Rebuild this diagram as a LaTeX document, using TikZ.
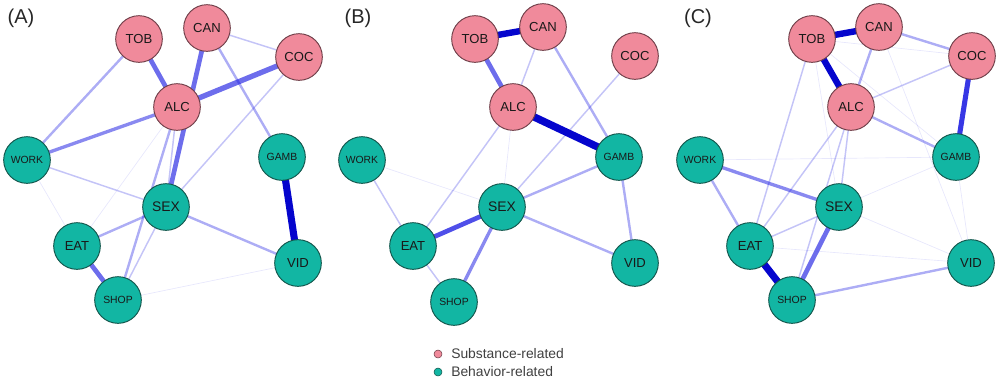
\documentclass[tikz,border=0pt]{standalone}
\usepackage{fontspec}
\setmainfont{Liberation Sans}
\usetikzlibrary{backgrounds}
\definecolor{pinkfill}{RGB}{240,138,155}
\definecolor{tealfill}{RGB}{18,182,163}
\definecolor{pinkline}{RGB}{110,62,72}
\definecolor{tealline}{RGB}{18,85,75}
\definecolor{edgeblue}{RGB}{20,20,225}
\definecolor{darkblue}{RGB}{5,5,205}
\tikzset{
  subst/.style={circle,draw=pinkline,line width=0.7pt,fill=pinkfill,minimum size=35pt,inner sep=0pt,text=black!90,font=\fontsize{9.8}{10}\selectfont},
  behav/.style={circle,draw=tealline,line width=0.7pt,fill=tealfill,minimum size=35pt,inner sep=0pt,text=black!90,font=\fontsize{9.8}{10}\selectfont},
  small/.style={font=\fontsize{7.8}{8}\selectfont},
  big/.style={font=\fontsize{10.4}{11}\selectfont},
  ef/.style={draw=edgeblue,line width=0.5pt,draw opacity=0.1},
  et/.style={draw=edgeblue,line width=1.1pt,draw opacity=0.25},
  em/.style={draw=edgeblue,line width=1.8pt,draw opacity=0.35},
  emt/.style={draw=edgeblue,line width=2.5pt,draw opacity=0.5},
  eth/.style={draw=edgeblue,line width=3.5pt,draw opacity=0.62},
  evt/.style={draw=darkblue,line width=5.3pt,draw opacity=1},
  panel/.style={font=\fontsize{15}{16}\selectfont,text=black!85},
  legtext/.style={font=\fontsize{10.4}{11}\selectfont,text=black!75,anchor=west,inner sep=0pt},
}
\begin{document}
\begin{tikzpicture}[x=0.75pt,y=-0.75pt]
\useasboundingbox (0,0) rectangle (999,380);
% ---------- Panel A ----------
\node[panel] (lA) at (21,18) {(A)};
\node[subst] (aTOB) at (139,39) {TOB};
\node[subst] (aCAN) at (207,28) {CAN};
\node[subst] (aCOC) at (299,57) {COC};
\node[subst] (aALC) at (177,107) {ALC};
\node[behav,small] (aWORK) at (27,160) {WORK};
\node[behav,small] (aGAMB) at (282,157) {GAMB};
\node[behav,big] (aSEX) at (166,207) {SEX};
\node[behav] (aEAT) at (77,246) {EAT};
\node[behav] (aVID) at (298,263) {VID};
\node[behav,small] (aSHOP) at (118,300) {SHOP};
% ---------- Panel B ----------
\node[panel] (lB) at (358,18) {(B)};
\node[subst] (bTOB) at (475,39) {TOB};
\node[subst] (bCAN) at (543,27) {CAN};
\node[subst] (bCOC) at (635,56) {COC};
\node[subst] (bALC) at (513,107) {ALC};
\node[behav,small] (bWORK) at (362,160) {WORK};
\node[behav,small] (bGAMB) at (619,157) {GAMB};
\node[behav,big] (bSEX) at (502,207) {SEX};
\node[behav] (bEAT) at (413,246) {EAT};
\node[behav] (bVID) at (635,263) {VID};
\node[behav,small] (bSHOP) at (454,302) {SHOP};
% ---------- Panel C ----------
\node[panel] (lC) at (698,18) {(C)};
\node[subst] (cTOB) at (812,39) {TOB};
\node[subst] (cCAN) at (879,27) {CAN};
\node[subst] (cCOC) at (972,56) {COC};
\node[subst] (cALC) at (851,107) {ALC};
\node[behav,small] (cWORK) at (700,160) {WORK};
\node[behav,small] (cGAMB) at (956,157) {GAMB};
\node[behav,big] (cSEX) at (839,207) {SEX};
\node[behav] (cEAT) at (750,246) {EAT};
\node[behav] (cVID) at (971,263) {VID};
\node[behav,small] (cSHOP) at (792,300) {SHOP};
% ---------- Legend ----------
\node[circle,fill=pinkfill,draw=pinkline,line width=0.4pt,minimum size=6pt,inner sep=0pt] (lgS) at (438,354) {};
\node[circle,fill=tealfill,draw=tealline,line width=0.4pt,minimum size=6pt,inner sep=0pt] (lgB) at (438,372) {};
\node[legtext] (lgSt) at (451,354) {Substance-related};
\node[legtext] (lgBt) at (451,372) {Behavior-related};
% ---------- Edges ----------
\begin{scope}[on background layer]
% A
\draw[ef] (aWORK.center) -- (aEAT.center);
\draw[ef] (aSHOP.center) -- (aVID.center);
\draw[ef] (aALC.center) -- (aEAT.center);
\draw[et] (aALC.center) -- (aSEX.center);
\draw[et] (aWORK.center) -- (aSEX.center);
\draw[et] (aSEX.center) -- (aSHOP.center);
\draw[et] (aCAN.center) -- (aCOC.center);
\draw[et] (aCOC.center) -- (aSEX.center);
\draw[em] (aALC.center) -- (aSHOP.center);
\draw[em] (aCAN.center) -- (aGAMB.center);
\draw[em] (aTOB.center) -- (aWORK.center);
\draw[em] (aSEX.center) -- (aVID.center);
\draw[em] (aSEX.center) -- (aEAT.center);
\draw[emt] (aALC.center) -- (aWORK.center);
\draw[eth] (aEAT.center) -- (aSHOP.center);
\draw[eth] (aTOB.center) -- (aALC.center);
\draw[eth] (aCAN.center) -- (aSEX.center);
\draw[eth,line width=4pt] (aCOC.center) -- (aALC.center);
\draw[evt] (aGAMB.center) -- (aVID.center);
% B
\draw[ef] (bALC.center) -- (bSEX.center);
\draw[ef] (bWORK.center) -- (bSEX.center);
\draw[et] (bCAN.center) -- (bALC.center);
\draw[et] (bCOC.center) -- (bSEX.center);
\draw[et] (bALC.center) -- (bEAT.center);
\draw[et] (bWORK.center) -- (bEAT.center);
\draw[et] (bEAT.center) -- (bSHOP.center);
\draw[em] (bCAN.center) -- (bGAMB.center);
\draw[em] (bSEX.center) -- (bGAMB.center);
\draw[em] (bGAMB.center) -- (bVID.center);
\draw[em] (bSEX.center) -- (bVID.center);
\draw[emt] (bSEX.center) -- (bSHOP.center);
\draw[eth] (bTOB.center) -- (bALC.center);
\draw[eth,draw opacity=0.75] (bSEX.center) -- (bEAT.center);
\draw[evt,line width=4.8pt] (bTOB.center) -- (bCAN.center);
\draw[evt,line width=5.6pt] (bALC.center) -- (bGAMB.center);
% C
\draw[ef] (cTOB.center) -- (cCOC.center);
\draw[ef] (cTOB.center) -- (cSEX.center);
\draw[ef] (cTOB.center) -- (cGAMB.center);
\draw[ef] (cCAN.center) -- (cVID.center);
\draw[ef] (cSEX.center) -- (cVID.center);
\draw[ef] (cEAT.center) -- (cVID.center);
\draw[ef] (cSEX.center) -- (cGAMB.center);
\draw[ef] (cGAMB.center) -- (cVID.center);
\draw[ef] (cWORK.center) -- (cGAMB.center);
\draw[et] (cALC.center) -- (cCOC.center);
\draw[et] (cTOB.center) -- (cEAT.center);
\draw[et] (cALC.center) -- (cEAT.center);
\draw[et] (cALC.center) -- (cSEX.center);
\draw[et] (cALC.center) -- (cSHOP.center);
\draw[et] (cEAT.center) -- (cSEX.center);
\draw[em] (cCAN.center) -- (cALC.center);
\draw[em] (cCAN.center) -- (cCOC.center);
\draw[em] (cALC.center) -- (cGAMB.center);
\draw[em] (cWORK.center) -- (cEAT.center);
\draw[em] (cSHOP.center) -- (cVID.center);
\draw[emt] (cWORK.center) -- (cSEX.center);
\draw[eth] (cSEX.center) -- (cSHOP.center);
\draw[eth,draw opacity=0.85,line width=3.8pt] (cCOC.center) -- (cGAMB.center);
\draw[evt,line width=4.8pt] (cTOB.center) -- (cCAN.center);
\draw[evt,line width=4.8pt] (cTOB.center) -- (cALC.center);
\draw[evt,line width=5.3pt] (cEAT.center) -- (cSHOP.center);
\end{scope}
\end{tikzpicture}
\end{document}
